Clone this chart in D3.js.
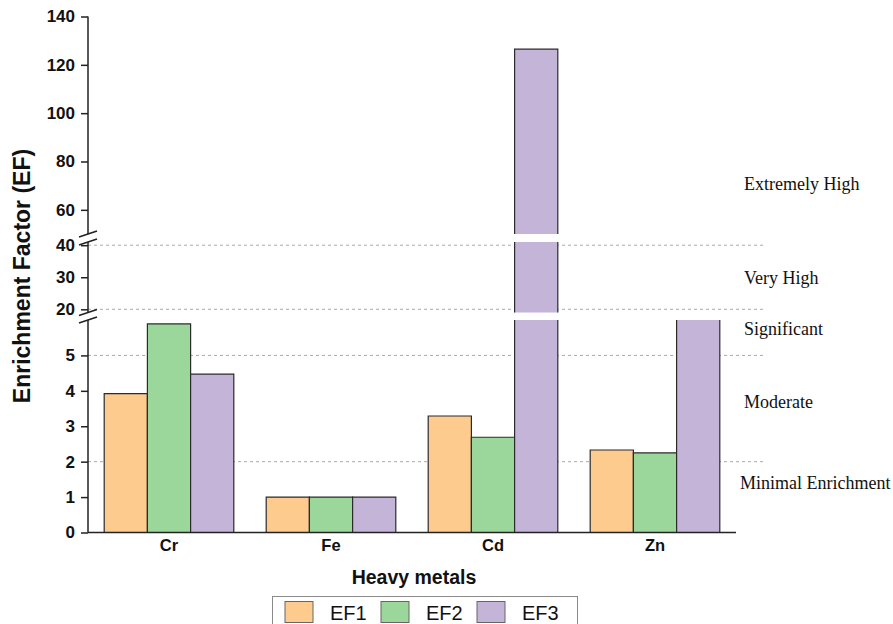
<!DOCTYPE html>
<html>
<head>
<meta charset="utf-8">
<script src="https://cdn.jsdelivr.net/npm/d3@7"></script>
<style>
  html, body { margin: 0; padding: 0; background: #fff; }
  svg { display: block; }
</style>
</head>
<body>
<svg id="chart" width="893" height="624"></svg>
<script>
// Heavy metal enrichment factors
const metals = ["Cr", "Fe", "Cd", "Zn"];
const seriesNames = ["EF1", "EF2", "EF3"];
const ef1 = [3.92, 1.0, 3.29, 2.33];
const ef2 = [5.89, 1.0, 2.69, 2.25];
const ef3 = [4.47, 1.0, 126.5, 8.5];
const seriesColors = ["#FDCB8E", "#9BD69B", "#C4B4D8"];

// Broken y axis: three value ranges stacked on top of each other
const lowTicks = [0, 1, 2, 3, 4, 5];
const midTicks = [20, 30, 40];
const highTicks = [60, 80, 100, 120, 140];
const thresholds = [2, 5, 20, 40];
const classLabels = ["Minimal Enrichment", "Moderate", "Significant", "Very High", "Extremely High"];
const classLabelY = [489, 408, 335, 284, 190];

const svg = d3.select("#chart");
const sans = "'Liberation Sans', Arial, sans-serif";
const serif = "'Liberation Serif', 'Times New Roman', serif";

const axisX = 88, plotRight = 736, lineRight = 765;

const segments = [
  { scale: d3.scaleLinear().domain([0, 6]).range([532.5, 320]), ticks: lowTicks },
  { scale: d3.scaleLinear().domain([19, 41]).range([312.5, 242]), ticks: midTicks },
  { scale: d3.scaleLinear().domain([50, 140]).range([234, 16.5]), ticks: highTicks }
];

function yOf(v) {
  for (const s of segments) {
    const [a, b] = s.scale.domain();
    if (v >= a && v <= b) return s.scale(v);
  }
  return null;
}

const x0 = d3.scaleBand().domain(metals).range([axisX, plotRight]).paddingInner(0.2).paddingOuter(0.1);
const x1 = d3.scaleBand().domain(seriesNames).range([0, x0.bandwidth()]);

// Threshold guide lines
svg.append("g").selectAll("line").data(thresholds).join("line")
  .attr("x1", axisX).attr("x2", lineRight)
  .attr("y1", d => yOf(d)).attr("y2", d => yOf(d))
  .attr("stroke", "#a9a9a9").attr("stroke-width", 1).attr("stroke-dasharray", "3,3");

// Bars, split across the axis segments
const values = [ef1, ef2, ef3];
const barData = [];
metals.forEach((m, i) => seriesNames.forEach((s, j) => barData.push({ m, s, j, v: values[j][i] })));

const bars = svg.append("g");
barData.forEach(d => {
  const bx = x0(d.m) + x1(d.s), bw = x1.bandwidth();
  segments.forEach((seg, k) => {
    const [lo, hi] = seg.scale.domain();
    const start = k === 0 ? 0 : lo;
    if (d.v <= start) return;
    const top = Math.min(d.v, hi);
    const yTop = seg.scale(top), yBot = seg.scale(start);
    bars.append("rect")
      .attr("x", bx).attr("y", yTop).attr("width", bw).attr("height", yBot - yTop)
      .attr("fill", seriesColors[d.j]);
    let p = `M${bx},${yBot}V${yTop}`;
    if (d.v <= hi) p += `H${bx + bw}`; else p += `M${bx + bw},${yTop}`;
    p += `V${yBot}`;
    bars.append("path").attr("d", p).attr("fill", "none")
      .attr("stroke", "#2b2b2b").attr("stroke-width", 1.2);
  });
});

// Y axis pieces with ticks
segments.forEach(seg => {
  const g = svg.append("g").attr("transform", `translate(${axisX},0)`)
    .call(d3.axisLeft(seg.scale).tickValues(seg.ticks).tickFormat(d3.format("d"))
      .tickSize(7).tickSizeOuter(0).tickPadding(6));
  g.select(".domain").remove();
  g.selectAll(".tick line").attr("stroke", "#222").attr("stroke-width", 1.5);
  g.selectAll(".tick text").attr("font-family", sans).attr("font-weight", "bold")
    .attr("font-size", 17).attr("fill", "#111");
  const r = seg.scale.range();
  svg.append("line").attr("x1", axisX).attr("x2", axisX)
    .attr("y1", r[0]).attr("y2", r[1]).attr("stroke", "#222").attr("stroke-width", 1.5);
});

// Break marks
const breakYs = [234, 242, 312.5, 320];
svg.append("g").selectAll("line").data(breakYs).join("line")
  .attr("x1", axisX - 9).attr("x2", axisX + 9)
  .attr("y1", d => d + 3).attr("y2", d => d - 3)
  .attr("stroke", "#222").attr("stroke-width", 1.5);

// X axis
svg.append("line").attr("x1", axisX).attr("x2", plotRight)
  .attr("y1", 532.5).attr("y2", 532.5).attr("stroke", "#222").attr("stroke-width", 1.5);
svg.append("g").selectAll("text").data(metals).join("text")
  .attr("x", d => x0(d) + x0.bandwidth() / 2).attr("y", 551)
  .attr("text-anchor", "middle").attr("font-family", sans).attr("font-weight", "bold")
  .attr("font-size", 16.5).attr("fill", "#111").text(d => d);

// Axis titles
svg.append("text").attr("x", 414).attr("y", 584).attr("text-anchor", "middle")
  .attr("font-family", sans).attr("font-weight", "bold").attr("font-size", 19.5)
  .attr("fill", "#111").text("Heavy metals");
svg.append("text").attr("transform", "translate(30,276) rotate(-90)").attr("text-anchor", "middle")
  .attr("font-family", sans).attr("font-weight", "bold").attr("font-size", 23)
  .attr("fill", "#111").text("Enrichment Factor (EF)");

// Enrichment class labels
svg.append("g").selectAll("text").data(classLabels).join("text")
  .attr("x", (d, i) => i === 0 ? 740 : 744).attr("y", (d, i) => classLabelY[i])
  .attr("font-family", serif).attr("font-size", 18).attr("fill", "#111").text(d => d);

// Legend
const leg = svg.append("g");
leg.append("rect").attr("x", 272.5).attr("y", 596.5).attr("width", 305).attr("height", 40)
  .attr("fill", "#fff").attr("stroke", "#8a8a8a").attr("stroke-width", 1);
const legX = [285, 381, 477];
seriesNames.forEach((s, i) => {
  leg.append("rect").attr("x", legX[i]).attr("y", 601.5).attr("width", 28).attr("height", 21)
    .attr("fill", seriesColors[i]).attr("stroke", "#666").attr("stroke-width", 1);
  leg.append("text").attr("x", legX[i] + 45).attr("y", 619.5)
    .attr("font-family", sans).attr("font-size", 20).attr("fill", "#111").text(s);
});
</script>
</body>
</html>
